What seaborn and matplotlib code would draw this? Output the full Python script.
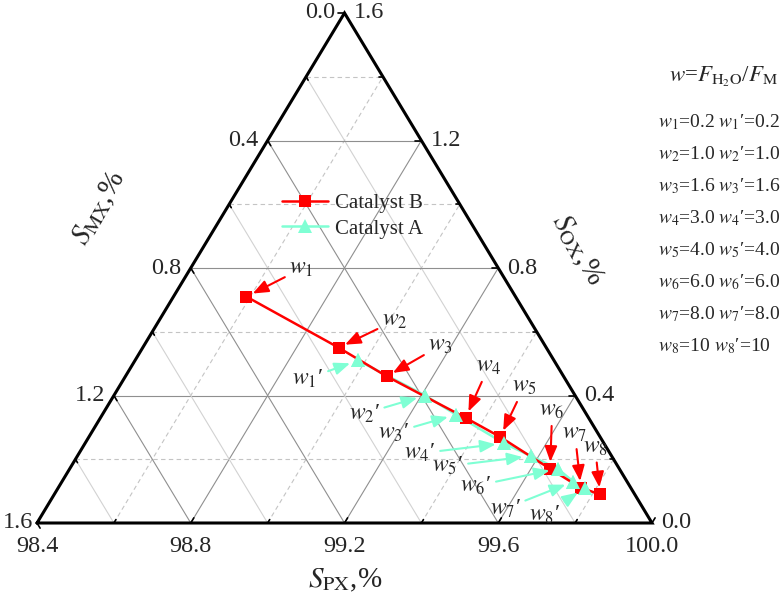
import matplotlib
matplotlib.use('Agg')
import matplotlib.pyplot as plt
import seaborn as sns

sns.set_style('white')
plt.rcParams['font.family'] = ['Liberation Serif', 'DejaVu Serif']
plt.rcParams['mathtext.fontset'] = 'stix'

# selectivities in %, PX + MX + OX = 100
b_px = [98.59, 98.91, 99.08, 99.35, 99.47, 99.65, 99.76, 99.82]
b_mx = [0.70, 0.54, 0.46, 0.32, 0.26, 0.18, 0.13, 0.09]
b_ox = [0.71, 0.55, 0.46, 0.33, 0.27, 0.17, 0.11, 0.09]

a_px = [98.98, 99.21, 99.32, 99.49, 99.58, 99.67, 99.73, 99.77]
a_mx = [0.51, 0.39, 0.34, 0.26, 0.21, 0.16, 0.14, 0.12]
a_ox = [0.51, 0.40, 0.34, 0.25, 0.21, 0.17, 0.13, 0.11]

w_index = ['1', '2', '3', '4', '5', '6', '7', '8']
w_values = ['0.2', '1.0', '1.6', '3.0', '4.0', '6.0', '8.0', '10']

px_ticks = [98.4, 98.8, 99.2, 99.6, 100.0]
side_ticks = [0.0, 0.4, 0.8, 1.2, 1.6]

# label offsets (pixels, right / down) from each point
b_off = [(55, -28), (56, -27), (54, -31), (23, -51), (24, -50), (2, -58), (-6, -54), (-5, -47)]
a_off = [(-50, 18), (-61, 18), (-62, 18), (-84, 10), (-83, 10), (-82, 17), (-68, 27), (-40, 27)]

RED = '#ff0000'
CYAN = '#7fffd4'
W, H = 780, 607
L, R, B, T = 37, 652, 523, 13   # triangle corners in pixels
PW, PH = R - L, B - T
TICK_FS = 17.5


def tern(px, ox):
    # PX at bottom right, OX at top, MX at bottom left
    p = (px - 98.4) / 1.6
    o = ox / 1.6
    return p + 0.5 * o, o


fig = plt.figure(figsize=(W / 100, H / 100), dpi=100)
ax = fig.add_axes([L / W, (H - B) / H, PW / W, PH / H])
ax.set_xlim(0, 1)
ax.set_ylim(0, 1)
ax.axis('off')

# grid
for k in range(1, 8):
    f = k / 8
    major = k % 2 == 0
    c_major = '#8f8f8f'
    # constant OX (horizontal)
    ax.plot([0.5 * f, 1 - 0.5 * f], [f, f], color=c_major if major else '#c4c4c4',
            lw=0.8, ls='-' if major else (0, (4, 3)), zorder=1)
    # constant MX
    ax.plot([0.5 * (1 - f), 1 - f], [1 - f, 0], color=c_major if major else '#d2d2d2',
            lw=0.8, ls='-', zorder=1)
    # constant PX
    ax.plot([f, f + 0.5 * (1 - f)], [0, 1 - f], color=c_major if major else '#c4c4c4',
            lw=0.8, ls='-' if major else (0, (4, 3)), zorder=1)

# frame
ax.plot([0, 1, 0.5, 0], [0, 0, 1, 0], color='black', lw=2.2, zorder=5,
        solid_joinstyle='miter', clip_on=False)

# ticks
for k in range(9):
    f = k / 8
    n = 6 if k % 2 == 0 else 4
    # bottom (PX), along left-edge direction
    ax.plot([f, f + n * 0.516 / PW], [0, n * 0.856 / PH], color='black', lw=1.2, zorder=5, clip_on=False)
    # left (MX), down-right
    x0, y0 = 0.5 * (1 - f), 1 - f
    ax.plot([x0, x0 + n * 0.516 / PW], [y0, y0 - n * 0.856 / PH], color='black', lw=1.2, zorder=5, clip_on=False)
    # right (OX), horizontal to the left
    x1, y1 = 1 - 0.5 * f, f
    ax.plot([x1, x1 - n / PW], [y1, y1], color='black', lw=1.2, zorder=5, clip_on=False)

# tick labels
for v in px_ticks:
    x, _ = tern(v, 0)
    ax.text(x, -13 / PH, f'{v:.1f}', ha='center', va='top', fontsize=TICK_FS, clip_on=False)
for v in side_ticks:
    # MX on left
    f = v / 1.6
    gap = 4 if v == 1.6 else 9
    ax.text(0.5 * (1 - f) - gap / PW, 1 - f, f'{v:.1f}', ha='right', va='center', fontsize=TICK_FS)
    # OX on right
    ax.text(1 - 0.5 * f + 9 / PW, f, f'{v:.1f}', ha='left', va='center', fontsize=TICK_FS)

# axis titles
fig.text(100 / W, 1 - 208 / H, r'$S_{\mathrm{MX}}$,%', rotation=60, ha='center', va='center', fontsize=21)
fig.text(577 / W, 1 - 250 / H, r'$S_{\mathrm{OX}}$,%', rotation=-60, ha='center', va='center', fontsize=21)
fig.text(345 / W, 1 - 580 / H, r'$S_{\mathrm{PX}}$,%', ha='center', va='center', fontsize=21)

# data
bx, by = zip(*[tern(p, o) for p, o in zip(b_px, b_ox)])
axx, ayy = zip(*[tern(p, o) for p, o in zip(a_px, a_ox)])

sns.lineplot(x=list(axx), y=list(ayy), sort=False, color=CYAN, lw=1.8, marker='^',
             markersize=10, markeredgewidth=0, label='Catalyst A', ax=ax, zorder=3)
sns.lineplot(x=list(bx), y=list(by), sort=False, color=RED, lw=1.8, marker='s',
             markersize=8.5, markeredgewidth=0, label='Catalyst B', ax=ax, zorder=4)
ax.plot(axx, ayy, ls='none', marker='^', markersize=10, markeredgewidth=0, color=CYAN, zorder=6)

# annotations
arrow = '-|>,head_length=0.55,head_width=0.22'
for i in range(8):
    dx, dy = b_off[i]
    ax.annotate(f'$w_{w_index[i]}$', xy=(bx[i], by[i]), xytext=(dx, -dy), textcoords='offset pixels',
                ha='center', va='center', fontsize=17, zorder=7,
                arrowprops=dict(arrowstyle=arrow, color=RED, lw=1.5, shrinkA=1, shrinkB=5))
    dx, dy = a_off[i]
    ax.annotate(f'$w_{w_index[i]}$\u2032', xy=(axx[i], ayy[i]), xytext=(dx, -dy), textcoords='offset pixels',
                ha='center', va='center', fontsize=17, zorder=7,
                arrowprops=dict(arrowstyle=arrow, color=CYAN, lw=1.5, shrinkA=1, shrinkB=6))

# legend, B first
h, lab = ax.get_legend_handles_labels()
ax.legend(h[::-1], lab[::-1], loc='center left', bbox_to_anchor=(282 / W, 1 - 216 / H),
          bbox_transform=fig.transFigure, frameon=False, fontsize=15, borderpad=0,
          borderaxespad=0, handlelength=2.2, handletextpad=0.35, labelspacing=0.3)

# condition list
fig.text(778 / W, 1 - 77 / H, r'$w$=$F_{\mathrm{H_2O}}$/$F_{\mathrm{M}}$', ha='right', va='center', fontsize=16.5)
for i in range(8):
    fig.text(658 / W, 1 - (122 + 32 * i) / H,
             f'$w_{w_index[i]}$={w_values[i]} $w_{w_index[i]}$\u2032={w_values[i]}',
             ha='left', va='center', fontsize=14)

fig.savefig('out.png', dpi=100)
